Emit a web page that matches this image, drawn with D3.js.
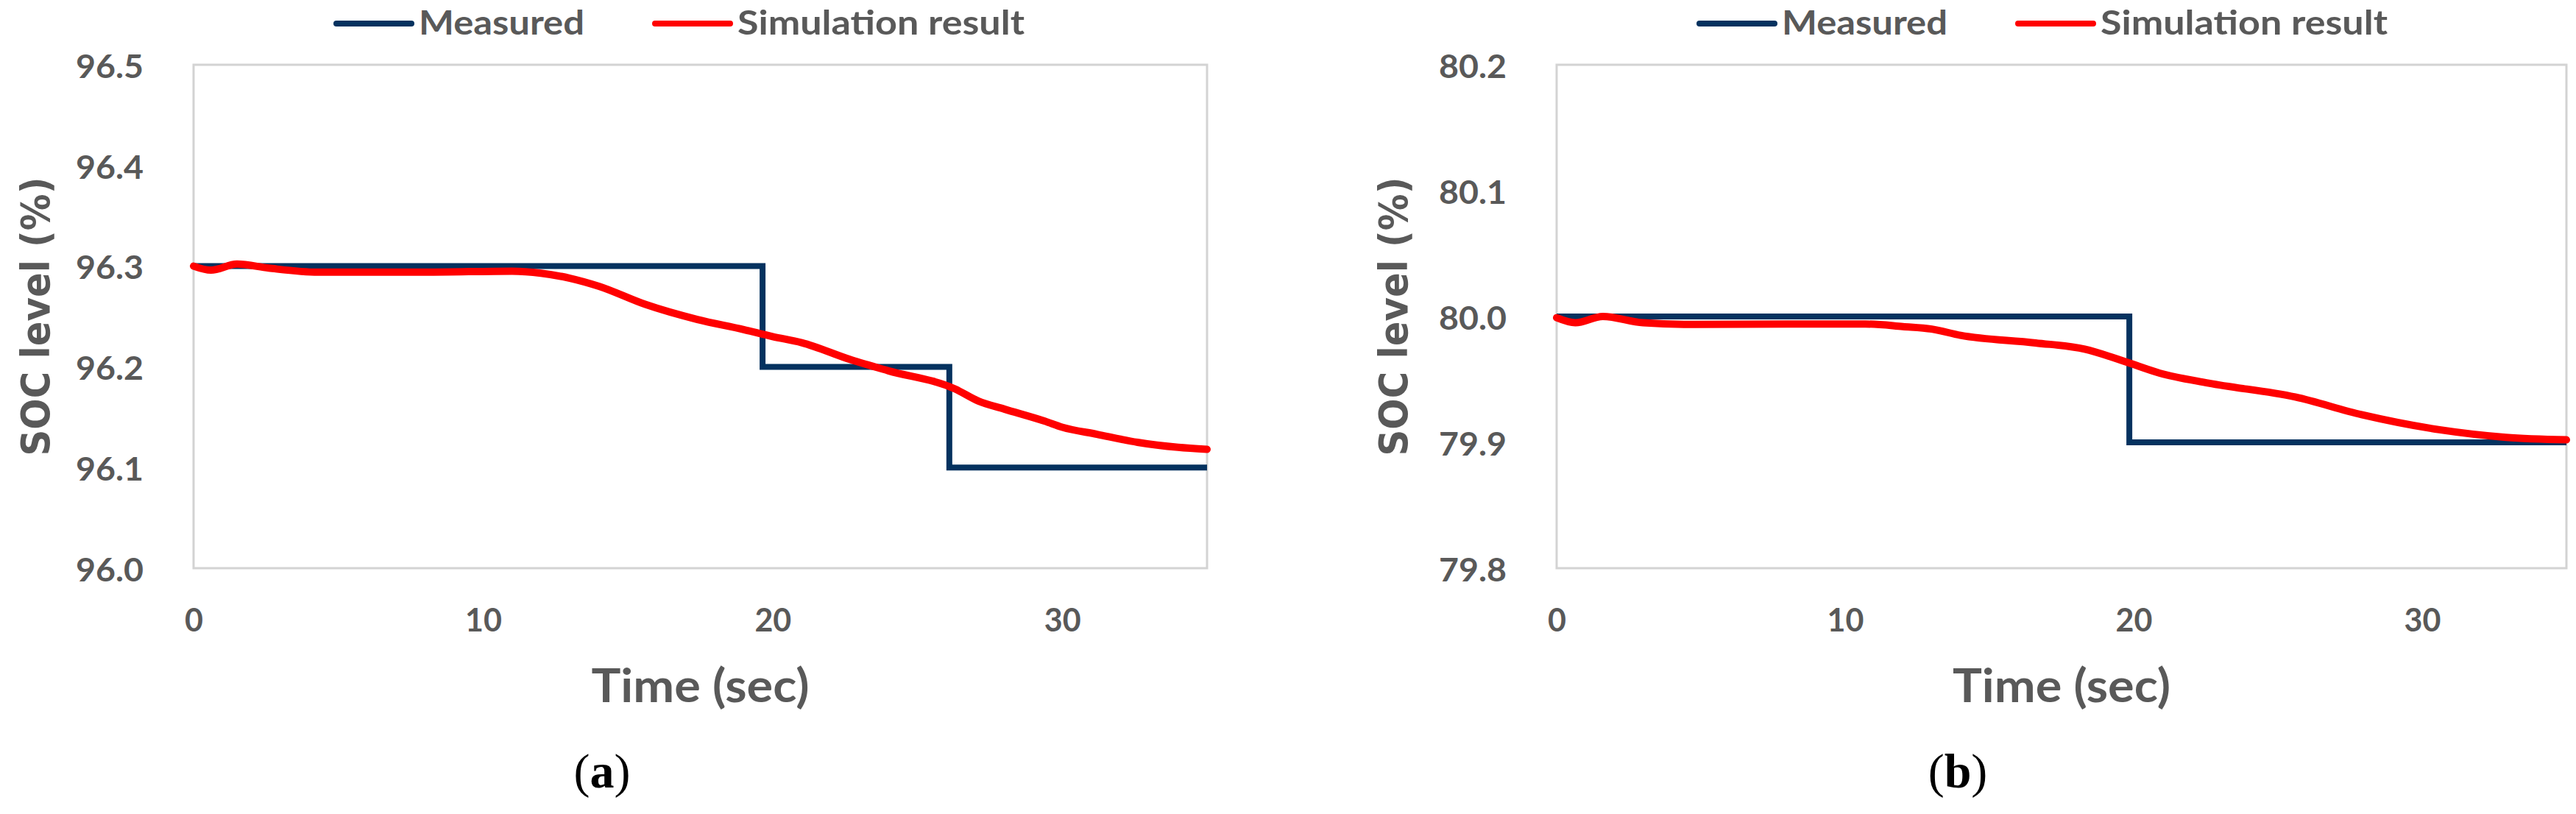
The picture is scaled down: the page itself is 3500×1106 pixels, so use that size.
<!DOCTYPE html>
<html>
<head>
<meta charset="utf-8">
<script src="https://cdn.jsdelivr.net/npm/d3@7"></script>
<style>
  html, body { margin: 0; padding: 0; background: #ffffff; }
  svg { display: block; }
</style>
</head>
<body>
<svg id="chart" width="3500" height="1106"></svg>
<script>
// ---------------- DATA ----------------
const seriesNames = ["Measured", "Simulation result"];
const panelLabels = ["a", "b"];
const xTicks = [0, 10, 20, 30];
const xDomain = [0, 35];

// Panel (a)
const aYTicks = [96.0, 96.1, 96.2, 96.3, 96.4, 96.5];
const aMeasuredTime = [0, 19.65, 26.1, 35];
const aMeasuredSOC  = [96.3, 96.2, 96.1, 96.1];
const aSimTime = [0, 0.6, 1.5, 2.6, 4.3, 8, 11, 12, 13, 14, 15.6, 17.4, 19, 20, 21, 22.7, 24, 26.3, 27.1, 28, 29.4, 30, 31.2, 32.6, 34, 35];
const aSimSOC  = [96.300, 96.296, 96.302, 96.298, 96.294, 96.294, 96.295, 96.293, 96.288, 96.280, 96.262, 96.247, 96.237, 96.230, 96.224, 96.207, 96.196, 96.178, 96.166, 96.158, 96.146, 96.140, 96.133, 96.125, 96.120, 96.118];

// Panel (b)
const bYTicks = [79.8, 79.9, 80.0, 80.1, 80.2];
const bMeasuredTime = [0, 19.85, 35];
const bMeasuredSOC  = [80.0, 79.9, 79.9];
const bSimTime = [0, 0.65, 1.6, 3, 4.8, 8, 10.7, 12, 13, 14, 16.6, 18.3, 19.2, 19.85, 20.9, 22.6, 25.6, 27.9, 30.6, 32.9, 35];
const bSimSOC  = [79.999, 79.995, 80.000, 79.995, 79.9937, 79.994, 79.994, 79.992, 79.990, 79.985, 79.979, 79.974, 79.968, 79.963, 79.955, 79.947, 79.936, 79.922, 79.910, 79.904, 79.902];

// ---------------- STYLE / LAYOUT ----------------
const navy = "#04325f";
const red = "#ff0000";
const gray = "#595959";
const sansFont = "Lato, 'Open Sans', 'Liberation Sans', sans-serif";

const panels = [
  { label: panelLabels[0], left: 263, right: 1640, yTicks: aYTicks,
    meas: aMeasuredTime.map((t, i) => [t, aMeasuredSOC[i]]),
    sim: aSimTime.map((t, i) => [t, aSimSOC[i]]),
    titleX: 67, labelX: 818 },
  { label: panelLabels[1], left: 2115, right: 3487, yTicks: bYTicks,
    meas: bMeasuredTime.map((t, i) => [t, bMeasuredSOC[i]]),
    sim: bSimTime.map((t, i) => [t, bSimSOC[i]]),
    titleX: 1912, labelX: 2660 }
];
const plotTop = 88, plotBottom = 772;

const svg = d3.select("#chart");

panels.forEach((p) => {
  const x = d3.scaleLinear().domain(xDomain).range([p.left, p.right]);
  const y = d3.scaleLinear().domain(d3.extent(p.yTicks)).range([plotBottom, plotTop]);
  const g = svg.append("g");

  // plot area frame
  g.append("rect")
    .attr("x", p.left).attr("y", plotTop)
    .attr("width", p.right - p.left).attr("height", plotBottom - plotTop)
    .attr("fill", "#ffffff").attr("stroke", "#d3d3d3").attr("stroke-width", 3);

  // x axis
  const xa = g.append("g").attr("transform", `translate(0,${plotBottom})`)
    .call(d3.axisBottom(x).tickValues(xTicks).tickSize(0).tickPadding(55).tickFormat(d3.format("d")));
  xa.select(".domain").remove();
  xa.selectAll("text").attr("font-family", sansFont).attr("font-size", 43)
    .attr("font-weight", 700).attr("fill", gray);

  // y axis
  const ya = g.append("g").attr("transform", `translate(${p.left},0)`)
    .call(d3.axisLeft(y).tickValues(p.yTicks).tickSize(0).tickPadding(68).tickFormat(d3.format(".1f")));
  ya.select(".domain").remove();
  ya.selectAll("text").attr("font-family", sansFont).attr("font-size", 43)
    .attr("font-weight", 700).attr("fill", gray).attr("dy", "0.40em")
    .attr("textLength", 92).attr("lengthAdjust", "spacingAndGlyphs");

  // lines
  const measLine = d3.line().x(d => x(d[0])).y(d => y(d[1])).curve(d3.curveStepAfter);
  const simLine = d3.line().x(d => x(d[0])).y(d => y(d[1])).curve(d3.curveMonotoneX);

  g.append("path").datum(p.meas).attr("d", measLine)
    .attr("fill", "none").attr("stroke", navy).attr("stroke-width", 8)
    .attr("stroke-linejoin", "miter");
  g.append("path").datum(p.sim).attr("d", simLine)
    .attr("fill", "none").attr("stroke", red).attr("stroke-width", 10)
    .attr("stroke-linejoin", "round").attr("stroke-linecap", "round");

  // axis titles
  g.append("text")
    .attr("transform", `translate(${p.titleX},430) rotate(-90)`)
    .attr("text-anchor", "middle")
    .attr("font-family", "'DejaVu Sans', Verdana, sans-serif").attr("font-weight", 700)
    .attr("font-size", 54).attr("fill", gray)
    .attr("textLength", 379).attr("lengthAdjust", "spacingAndGlyphs")
    .text("SOC level (%)");

  g.append("text")
    .attr("x", (p.left + p.right) / 2).attr("y", 954)
    .attr("text-anchor", "middle")
    .attr("font-family", sansFont).attr("font-weight", 700)
    .attr("font-size", 63).attr("fill", gray)
    .attr("textLength", 296).attr("lengthAdjust", "spacingAndGlyphs")
    .text("Time (sec)");

  // legend
  const lx = p.left + 194;
  const items = [
    { name: seriesNames[0], color: navy, x0: lx, tw: 225 },
    { name: seriesNames[1], color: red, x0: lx + 433, tw: 390 }
  ];
  items.forEach(it => {
    g.append("line").attr("x1", it.x0).attr("x2", it.x0 + 102)
      .attr("y1", 32).attr("y2", 32)
      .attr("stroke", it.color).attr("stroke-width", 8).attr("stroke-linecap", "round");
    g.append("text").attr("x", it.x0 + 112).attr("y", 47)
      .attr("font-family", sansFont).attr("font-weight", 700)
      .attr("font-size", 45).attr("fill", gray)
      .attr("textLength", it.tw).attr("lengthAdjust", "spacingAndGlyphs")
      .text(it.name);
  });

  // panel label
  const pl = g.append("text").attr("x", p.labelX).attr("y", 1070)
    .attr("text-anchor", "middle")
    .attr("font-family", "'Liberation Serif', 'DejaVu Serif', serif")
    .attr("font-size", 66).attr("fill", "#000000");
  pl.append("tspan").text("(");
  pl.append("tspan").attr("font-weight", 700).text(p.label);
  pl.append("tspan").text(")");
});
</script>
</body>
</html>
